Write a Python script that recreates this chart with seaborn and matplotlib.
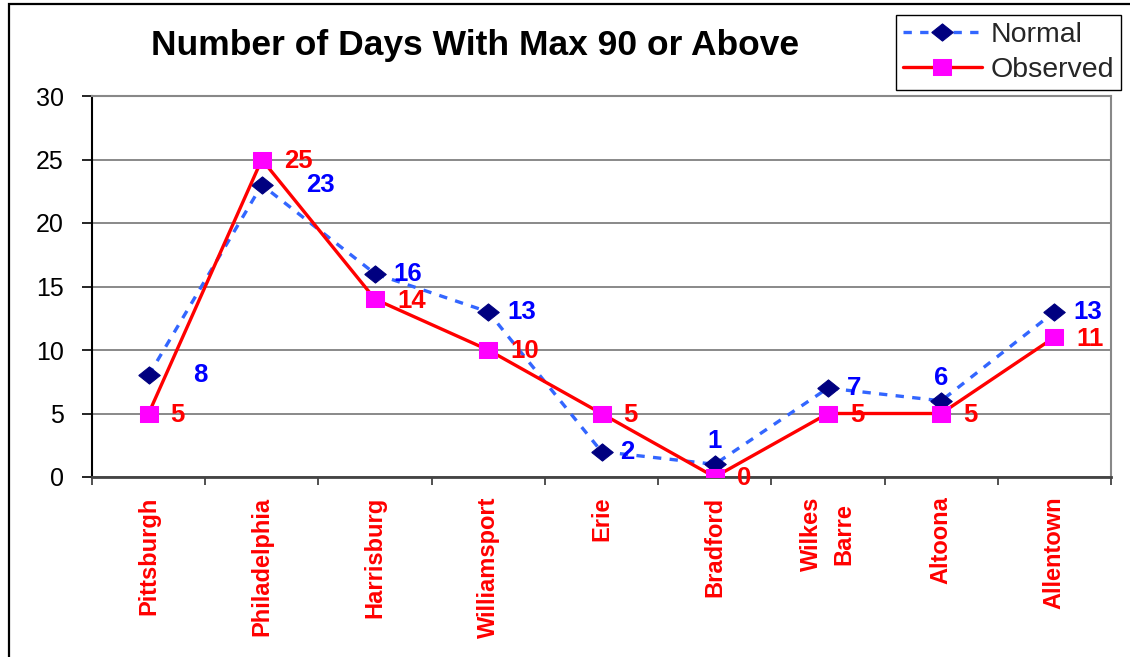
import numpy as np
import pandas as pd
import matplotlib
matplotlib.use("Agg")
import matplotlib.pyplot as plt
import seaborn as sns
from matplotlib.patches import Rectangle

# ---- data ----
cities = ["Pittsburgh", "Philadelphia", "Harrisburg", "Williamsport", "Erie",
          "Bradford", "Wilkes\nBarre", "Altoona", "Allentown"]
normal = [8, 23, 16, 13, 2, 1, 7, 6, 13]
observed = [5, 25, 14, 10, 5, 0, 5, 5, 11]
yticks = [0, 5, 10, 15, 20, 25, 30]
series_names = ["Normal", "Observed"]
title = "Number of Days With Max 90 or Above"

# label placement style for the Normal series
normal_label_pos = ["far", "far", "right", "right", "right", "above", "right", "above", "right"]

sns.set_style("white")
plt.rcParams['font.family'] = ['Liberation Sans', 'DejaVu Sans']

W, H = 1130, 657
fig = plt.figure(figsize=(W / 100, H / 100), dpi=100)
ax = fig.add_axes([92 / W, 1 - 477 / H, (1111 - 92) / W, (477 - 96) / H])

pos = np.arange(len(cities))
df = pd.DataFrame({
    "pos": np.tile(pos, 2),
    "value": normal + observed,
    "series": [series_names[0]] * len(cities) + [series_names[1]] * len(cities),
})

diamond = [(-1, 0), (0, 0.8), (1, 0), (0, -0.8), (-1, 0)]
rect = [(-1, -0.83), (1, -0.83), (1, 0.83), (-1, 0.83), (-1, -0.83)]

sns.lineplot(data=df[df.series == series_names[0]], x="pos", y="value", ax=ax,
             color="#3366FF", lw=2.4, linestyle=(0, (2.5, 2.5)),
             marker=diamond, markersize=15.5, markerfacecolor="#000080",
             markeredgecolor="#000080", legend=False, zorder=3)
sns.lineplot(data=df[df.series == series_names[1]], x="pos", y="value", ax=ax,
             color="#FF0000", lw=2.4, linestyle="-",
             marker=rect, markersize=13.5, markerfacecolor="#FF00FF",
             markeredgecolor="#FF00FF", legend=False, zorder=4)

# data labels
for i, (v, p) in enumerate(zip(normal, normal_label_pos)):
    if p == "above":
        off, ha = (0, 16.5), "center"
    elif p == "far":
        off, ha = (32, 0), "left"
    else:
        off, ha = (13.5, 0), "left"
    ax.annotate(str(v), (i, v), xytext=off, textcoords="offset points",
                ha=ha, va="center", color="#0000FF", fontsize=18.5,
                fontweight="bold", zorder=5)
for i, v in enumerate(observed):
    ax.annotate(str(v), (i, v), xytext=(15.8, -1), textcoords="offset points",
                ha="left", va="center", color="#FF0000", fontsize=18.5,
                fontweight="bold", zorder=5)

# axes
ax.set_xlim(-0.5, len(cities) - 0.5)
ax.set_ylim(0, 30)
ax.set_xlabel("")
ax.set_ylabel("")
ax.set_xticks(pos)
ax.set_xticklabels(cities, rotation=90, color="#FF0000", fontweight="bold",
                   fontsize=17, multialignment="center", linespacing=1.5)
ax.set_xticks(np.arange(-0.5, len(cities), 1), minor=True)
ax.tick_params(axis="x", which="major", bottom=True, length=0, pad=14)
ax.tick_params(axis="x", which="minor", bottom=True, length=5.8, width=1.2,
               color="#333333", direction="out")
ax.set_yticks(yticks)
ax.tick_params(axis="y", left=True, length=7, width=1.2, color="black",
               direction="out", pad=13.5, labelsize=18, labelcolor="black")

ax.yaxis.grid(True, color="#808080", lw=1.3)
ax.xaxis.grid(False)
ax.set_axisbelow(True)
ax.spines["left"].set_color("black")
ax.spines["left"].set_linewidth(1.5)
ax.spines["bottom"].set_color("#444444")
ax.spines["bottom"].set_linewidth(2)
for s in ("top", "right"):
    ax.spines[s].set_color("#888888")
    ax.spines[s].set_linewidth(1.5)

# title
fig.text(475 / W, 1 - 45 / H, title, ha="center", va="center",
         fontsize=25.5, fontweight="bold", color="black")

# legend
handles = ax.lines[:2]
leg = fig.legend(handles, series_names, loc="upper left",
                 bbox_to_anchor=(896 / W, 1 - 15 / H), borderaxespad=0,
                 fontsize=20.5, frameon=True, fancybox=False, framealpha=1,
                 edgecolor="black", handlelength=2.8, handletextpad=0.3,
                 labelspacing=0.34, borderpad=0.23)
leg.get_frame().set_linewidth(1.0)

# figure frame
fig.add_artist(Rectangle((9 / W, -0.05), 1.2, 1 - 4 / H + 0.05,
                         transform=fig.transFigure, fill=False,
                         edgecolor="black", lw=1.6))

fig.savefig("out.png", dpi=100)
